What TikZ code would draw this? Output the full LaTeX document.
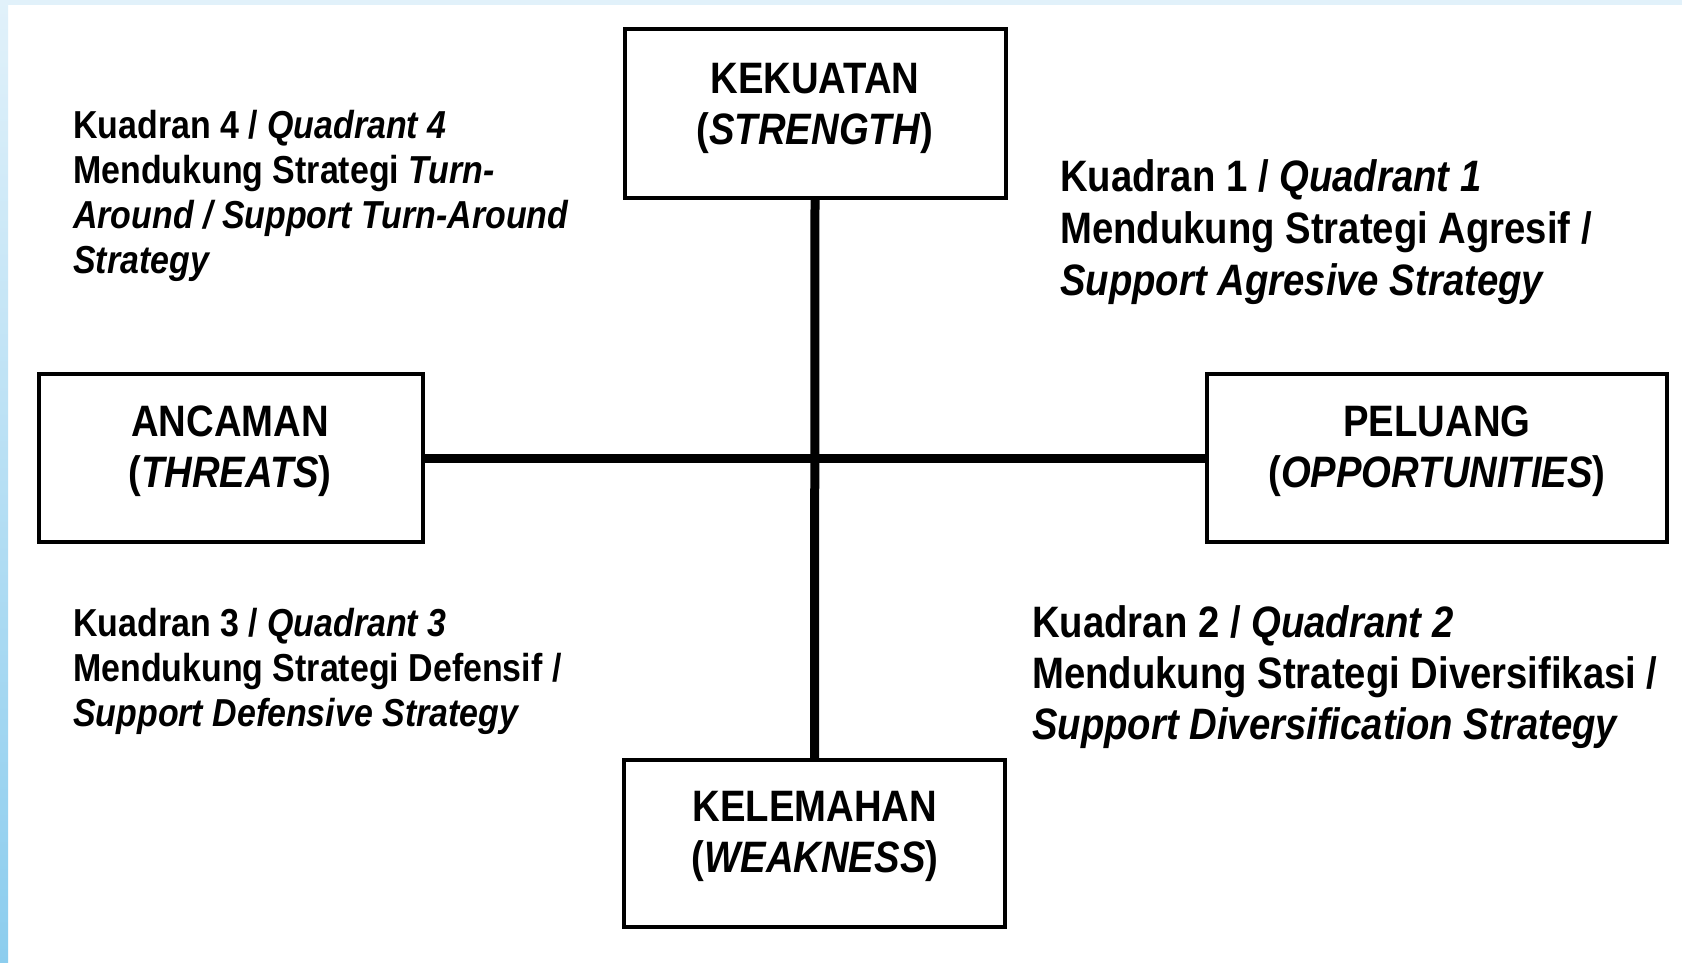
\documentclass[tikz,border=0pt]{standalone}
\usepackage{fontspec}
\setmainfont{Liberation Sans}[FakeStretch=0.87]
\definecolor{edgeblue}{HTML}{8CCDEE}
\definecolor{paleblue}{HTML}{E1F1FA}
\begin{document}
\begin{tikzpicture}[x=1pt,y=-1pt,
  box/.style={draw=black, line width=4pt, fill=white, inner sep=0pt},
  axisline/.style={line width=9pt, black},
  lbl/.style={align=center, anchor=base, inner sep=0pt, font={\fontsize{44}{51}\selectfont\bfseries}},
  quadbig/.style={align=left, anchor=base west, inner sep=0pt, font={\fontsize{44}{52}\selectfont\bfseries}},
  quadsmall/.style={align=left, anchor=base west, inner sep=0pt, font={\fontsize{39}{45}\selectfont\bfseries}}
]
\useasboundingbox (0,0) rectangle (1682,962);
\fill[white] (0,0) rectangle (1682,962);
\fill[paleblue] (0,0) rectangle (1682,5);
\shade[top color=paleblue, bottom color=edgeblue] (0,0) rectangle (8,962);

% boxes
\node[box, minimum width=381pt, minimum height=169pt] (kek) at (815,113.5) {};
\node[box, minimum width=384pt, minimum height=168pt] (anc) at (230.5,458) {};
\node[box, minimum width=460pt, minimum height=168pt] (pel) at (1436.5,458) {};
\node[box, minimum width=381pt, minimum height=167pt] (kel) at (814.5,843.5) {};

% axes
\draw[axisline] (kek.south) -- (kel.north);
\draw[axisline] (anc.east) -- (pel.west);

% box labels (anchor = baseline of last line)
\node[lbl] (kekl) at (815,144) {KEKUATAN\\(\textit{STRENGTH})};
\node[lbl] (ancl) at (230,487) {ANCAMAN\\(\textit{THREATS})};
\node[lbl] (pell) at (1437,487) {PELUANG\\(\textit{OPPORTUNITIES})};
\node[lbl] (kell) at (815,872) {KELEMAHAN\\(\textit{WEAKNESS})};

% quadrant texts (anchor = baseline of last line)
\node[quadsmall] (q4) at (73,273) {Kuadran 4 / \textit{Quadrant 4}\\Mendukung Strategi \textit{Turn-}\\\textit{Around / Support Turn-Around}\\\textit{Strategy}};
\node[quadbig] (q1) at (1060,295) {Kuadran 1 / \textit{Quadrant 1}\\Mendukung Strategi Agresif /\\\textit{Support Agresive Strategy}};
\node[quadsmall] (q3) at (73,726) {Kuadran 3 / \textit{Quadrant 3}\\Mendukung Strategi Defensif /\\\textit{Support Defensive Strategy}};
\node[quadbig, font={\fontsize{44}{51}\selectfont\bfseries}] (q2) at (1032,739) {Kuadran 2 / \textit{Quadrant 2}\\Mendukung Strategi Diversifikasi /\\\textit{Support Diversification Strategy}};
\end{tikzpicture}
\end{document}
